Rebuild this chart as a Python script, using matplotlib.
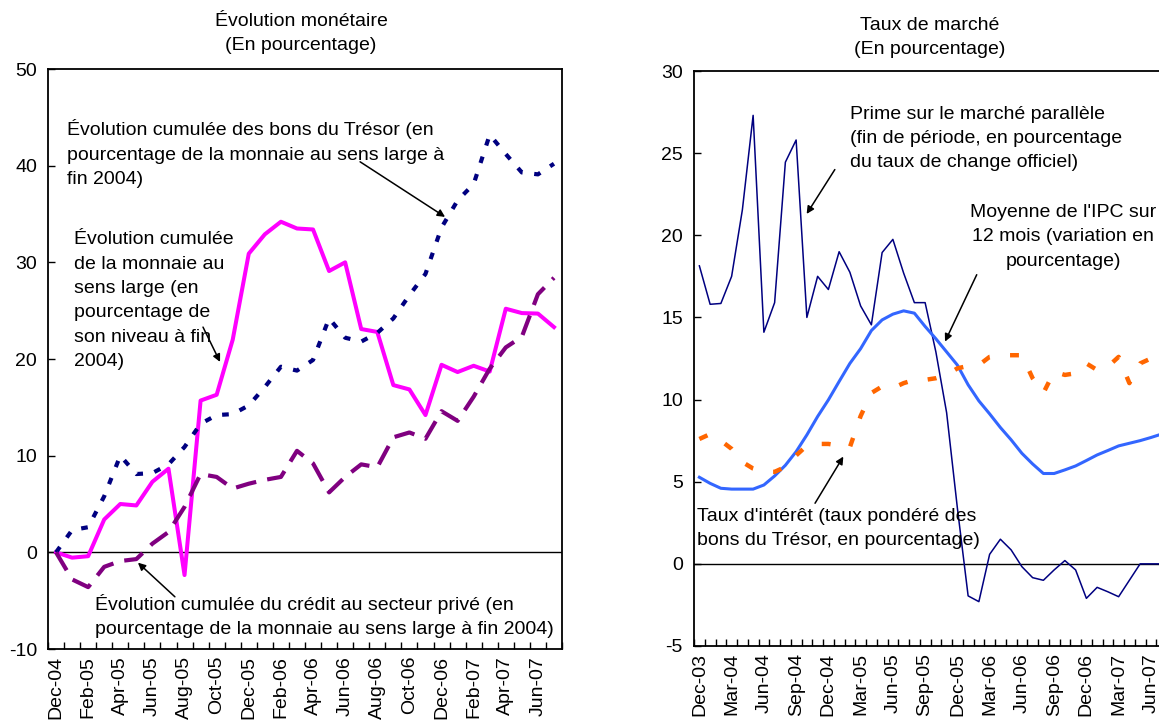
import numpy as np
import matplotlib
matplotlib.use("Agg")
import matplotlib.pyplot as plt

plt.rcParams['font.family'] = ['Liberation Sans', 'DejaVu Sans']
plt.rcParams['font.size'] = 14

# ---- left panel: Dec-04 .. Jul-07 (monthly)
left_ticklabels = ["Dec-04", "Feb-05", "Apr-05", "Jun-05", "Aug-05", "Oct-05", "Dec-05", "Feb-06",
                   "Apr-06", "Jun-06", "Aug-06", "Oct-06", "Dec-06", "Feb-07", "Apr-07", "Jun-07"]
broad_money = [0, -0.55, -0.4, 3.4, 5.0, 4.85, 7.3, 8.65, -2.35, 15.7, 16.3, 22.0,
               30.9, 32.9, 34.2, 33.5, 33.4, 29.1, 30.0, 23.1, 22.8, 17.3, 16.85, 14.2,
               19.4, 18.65, 19.3, 18.7, 25.2, 24.75, 24.7, 23.3]
tbills = [0, 2.3, 2.6, 5.8, 10.0, 8.1, 8.2, 9.1, 10.9, 13.3, 14.2, 14.3,
          15.2, 17.1, 19.2, 18.8, 19.9, 24.2, 22.2, 21.8, 22.7, 24.2, 26.6, 28.8,
          33.6, 36.4, 38.1, 43.2, 41.2, 39.3, 39.1, 40.2]
credit = [0, -2.8, -3.6, -1.5, -0.9, -0.7, 0.9, 2.1, 4.7, 8.1, 7.8, 6.6,
          7.1, 7.5, 7.8, 10.5, 9.2, 6.2, 7.8, 9.1, 8.8, 11.9, 12.4, 11.75,
          14.6, 13.6, 16.1, 19.0, 21.2, 22.3, 26.7, 28.4]

# ---- right panel: Dec-03 .. Jul-07 (monthly)
right_ticklabels = ["Dec-03", "Mar-04", "Jun-04", "Sep-04", "Dec-04", "Mar-05", "Jun-05", "Sep-05",
                    "Dec-05", "Mar-06", "Jun-06", "Sep-06", "Dec-06", "Mar-07", "Jun-07"]
prime = [18.14, 15.8, 15.85, 17.5, 21.55, 27.3, 14.1, 15.9, 24.45, 25.8, 15.0, 17.5,
         16.7, 19.0, 17.75, 15.7, 14.55, 18.95, 19.75, 17.7, 15.9, 15.9, 12.9, 9.2,
         3.4, -1.95, -2.3, 0.58, 1.5, 0.85, -0.17, -0.84, -1.0, -0.37, 0.2, -0.37,
         -2.1, -1.43, -1.7, -2.0, -1.0, 0, 0, 0]
cpi = [5.27, 4.9, 4.6, 4.55, 4.55, 4.55, 4.8, 5.35, 6.0, 6.83, 7.85, 8.97,
       9.98, 11.1, 12.2, 13.1, 14.2, 14.85, 15.2, 15.4, 15.26, 14.45, 13.7, 12.9,
       12.1, 10.9, 9.92, 9.13, 8.3, 7.55, 6.73, 6.08, 5.5, 5.5, 5.72, 5.96,
       6.29, 6.63, 6.9, 7.18, 7.34, 7.5, 7.69, 7.9]
interest = [7.6, 7.9, 7.5, 7.0, 6.2, 5.8, 5.6, 5.6, 5.9, 6.6, 7.2, 7.3,
            7.3, 7.2, 7.1, 9.0, 10.4, 10.8, 10.7, 11.0, 11.2, 11.2, 11.3, 11.5,
            11.9, 12.05, 12.1, 12.6, 12.7, 12.7, 12.7, 11.3, 10.4, 11.7, 11.5, 11.6,
            12.2, 11.8, 12.0, 12.6, 11.0, 12.2, 12.5, 12.6]

W, H = 1159, 723
fig = plt.figure(figsize=(W / 100, H / 100), dpi=100)


def px_axes(x0, y0, x1, y1):
    return fig.add_axes([x0 / W, 1 - y1 / H, (x1 - x0) / W, (y1 - y0) / H])


def style_axes(ax, n, step, labels, ylim, yticks):
    ax.set_xlim(-0.5, n - 0.5)
    ax.set_ylim(*ylim)
    ax.set_yticks(yticks)
    ax.set_yticklabels([str(v) for v in yticks])
    ax.set_xticks(np.arange(n + 1) - 0.5)
    ax.set_xticklabels([])
    ax.set_xticks(np.arange(0, n, step), minor=True)
    ax.set_xticklabels(labels, minor=True, rotation=90)
    ax.tick_params(axis='x', which='major', direction='in', length=5, width=1)
    ax.tick_params(axis='x', which='minor', length=0, pad=5)
    ax.tick_params(axis='y', direction='in', length=5, width=1, pad=8)
    for s in ax.spines.values():
        s.set_linewidth(1.3)
    ax.axhline(0, color='black', lw=1.0, zorder=1)


arrow = dict(arrowstyle='-|>', color='black', lw=1.1, mutation_scale=11, shrinkA=0, shrinkB=0)
LS = 1.56

# ---------------- left
ax1 = px_axes(48, 69, 562, 649)
n1 = len(broad_money)
x1 = np.arange(n1)
style_axes(ax1, n1, 2, left_ticklabels, (-10, 50), [-10, 0, 10, 20, 30, 40, 50])
ax1.plot(x1, broad_money, color='#FF00FF', lw=2.9, zorder=3)
ax1.plot(x1, tbills, color='#000080', lw=3.0, dashes=(1.6, 2.8), zorder=4)
ax1.plot(x1, credit, color='#800080', lw=3.0, dashes=(5.0, 2.7), zorder=5)

ax1.text(0.68, 44.8, "Évolution cumulée des bons du Trésor (en\npourcentage de la monnaie au sens large à\nfin 2004)",
         ha='left', va='top', linespacing=LS)
ax1.annotate("", xy=(24.22, 34.7), xytext=(18.93, 40.4), arrowprops=arrow)
ax1.text(1.12, 33.2, "Évolution cumulée\nde la monnaie au\nsens large (en\npourcentage de\nson niveau à fin\n2004)",
         ha='left', va='top', linespacing=LS)
ax1.annotate("", xy=(10.21, 19.7), xytext=(9.15, 23.3), arrowprops=arrow)
ax1.text(2.43, -4.3, "Évolution cumulée du crédit au secteur privé (en\npourcentage de la monnaie au sens large à fin 2004)",
         ha='left', va='top', linespacing=LS)
ax1.annotate("", xy=(5.1, -1.07), xytext=(7.4, -4.6), arrowprops=arrow)

fig.text(301 / W, 1 - 21 / H, "Évolution monétaire", ha='center', va='center')
fig.text(301 / W, 1 - 46 / H, "(En pourcentage)", ha='center', va='center')

# ---------------- right
ax2 = px_axes(694, 71, 1167, 646)
n2 = len(prime)
x2 = np.arange(n2)
style_axes(ax2, n2, 3, right_ticklabels, (-5, 30), [-5, 0, 5, 10, 15, 20, 25, 30])
ax2.plot(x2, prime, color='#000080', lw=1.1, zorder=3)
ax2.plot(x2, cpi, color='#3366FF', lw=2.2, zorder=4)
ax2.plot(x2, interest, color='#FF6600', lw=3.2, dashes=(2.0, 4.6), zorder=5)

ax2.text(14.0, 27.9, "Prime sur le marché parallèle\n(fin de période, en pourcentage\ndu taux de change officiel)",
         ha='left', va='top', linespacing=LS)
ax2.annotate("", xy=(9.98, 21.3), xytext=(12.6, 24.0), arrowprops=arrow)
ax2.text(33.83, 21.9, "Moyenne de l'IPC sur\n12 mois (variation en\npourcentage)",
         ha='center', va='top', multialignment='center', linespacing=LS)
ax2.annotate("", xy=(22.85, 13.53), xytext=(25.8, 17.6), arrowprops=arrow)
ax2.text(-0.22, 3.4, "Taux d'intérêt (taux pondéré des\nbons du Trésor, en pourcentage)",
         ha='left', va='top', linespacing=LS)
ax2.annotate("", xy=(13.39, 6.53), xytext=(10.76, 3.69), arrowprops=arrow)

fig.text(930 / W, 1 - 26 / H, "Taux de marché", ha='center', va='center')
fig.text(930 / W, 1 - 50 / H, "(En pourcentage)", ha='center', va='center')

fig.savefig("out.png", dpi=100)
